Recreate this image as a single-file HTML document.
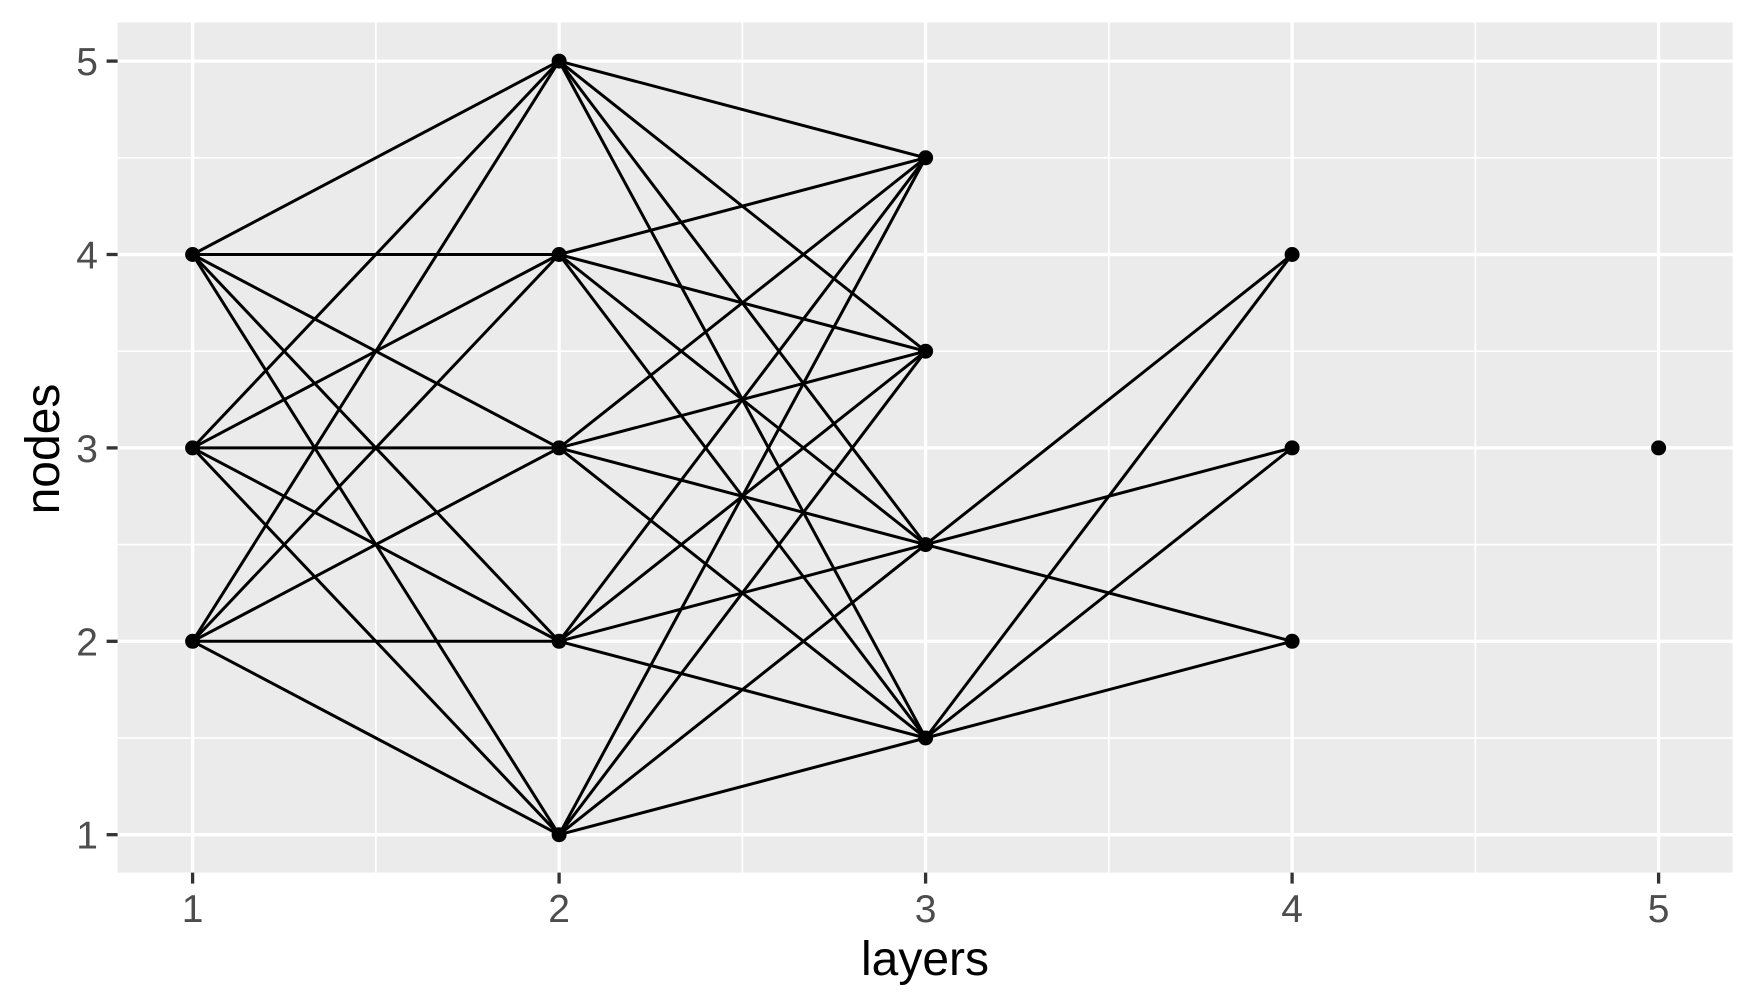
<!DOCTYPE html>
<html><head><meta charset="utf-8"><style>
html,body{margin:0;padding:0;background:#fff;}
svg{display:block;font-family:"Liberation Sans",Arial,sans-serif;}
</style></head><body>
<svg id="chart" width="1756" height="1006" viewBox="0 0 1756 1006">
<rect x="117.6" y="22.5" width="1615" height="850.1" fill="#ebebeb"/>
<g id="grid"></g>
<g id="edges"></g>
<g id="points"></g>
<g id="axes"></g>
<text x="925" y="975" font-size="48" text-anchor="middle" fill="#000">layers</text>
<text x="0" y="0" font-size="48" text-anchor="middle" fill="#000" transform="translate(59,449) rotate(-90)">nodes</text>
</svg>
<script>
const xTicks = [1, 2, 3, 4, 5];
const yTicks = [1, 2, 3, 4, 5];
const nodeLayers = [1, 1, 1, 2, 2, 2, 2, 2, 3, 3, 3, 3, 4, 4, 4, 5];
const nodeValues = [2, 3, 4, 1, 2, 3, 4, 5, 1.5, 2.5, 3.5, 4.5, 2, 3, 4, 3];
const edgeFrom = [0,0,0,0,0, 1,1,1,1,1, 2,2,2,2,2,
  3,3,3,3, 4,4,4,4, 5,5,5,5, 6,6,6,6, 7,7,7,7,
  8,8,8, 9,9,9];
const edgeTo = [3,4,5,6,7, 3,4,5,6,7, 3,4,5,6,7,
  8,9,10,11, 8,9,10,11, 8,9,10,11, 8,9,10,11, 8,9,10,11,
  12,13,14, 12,13,14];

const NS = 'http://www.w3.org/2000/svg';
function xs(v){ return 192.6 + (v - 1) * 366.5; }
function ys(v){ return 834.7 - (v - 1) * 193.4; }
function mk(tag, attrs, parent){
  const e = document.createElementNS(NS, tag);
  for (const k in attrs) e.setAttribute(k, attrs[k]);
  parent.appendChild(e); return e;
}
const L = 117.6, R = 1732.6, T = 22.5, B = 872.6;
const grid = document.getElementById('grid');
for (let i = 0; i < xTicks.length - 1; i++) {
  const v = (xTicks[i] + xTicks[i+1]) / 2;
  const g = mk('line', {x1: xs(v), x2: xs(v), y1: T, y2: B, stroke: '#fff', 'stroke-width': 1.7}, grid);
  
  
}
for (let i = 0; i < yTicks.length - 1; i++) {
  const v = (yTicks[i] + yTicks[i+1]) / 2;
  const g = mk('line', {x1: L, x2: R, y1: ys(v), y2: ys(v), stroke: '#fff', 'stroke-width': 1.7}, grid);
  
  
}
const axes = document.getElementById('axes');
xTicks.forEach(v => {
  const g = mk('line', {x1: xs(v), x2: xs(v), y1: T, y2: B, stroke: '#fff', 'stroke-width': 3.3}, grid);
  
  
  const t = mk('line', {x1: xs(v), x2: xs(v), y1: B, y2: B + 11, stroke: '#333', 'stroke-width': 3.3}, axes);
  
  
  const lb = mk('text', {x: xs(v), y: 922, 'font-size': 39, 'text-anchor': 'middle', fill: '#4d4d4d'}, axes);
  lb.textContent = v;
  
  
});
yTicks.forEach(v => {
  const g = mk('line', {x1: L, x2: R, y1: ys(v), y2: ys(v), stroke: '#fff', 'stroke-width': 3.3}, grid);
  
  
  const t = mk('line', {x1: L - 11, x2: L, y1: ys(v), y2: ys(v), stroke: '#333', 'stroke-width': 3.3}, axes);
  
  
  const lb = mk('text', {x: 98, y: ys(v) + 14, 'font-size': 39, 'text-anchor': 'end', fill: '#4d4d4d'}, axes);
  lb.textContent = v;
  
  
});
const edges = document.getElementById('edges');
for (let i = 0; i < edgeFrom.length; i++) {
  const a = edgeFrom[i], b = edgeTo[i];
  const e = mk('line', {x1: xs(nodeLayers[a]), y1: ys(nodeValues[a]), x2: xs(nodeLayers[b]), y2: ys(nodeValues[b]), stroke: '#000', 'stroke-width': 3}, edges);
  
  
}
const pts = document.getElementById('points');
for (let i = 0; i < nodeLayers.length; i++) {
  const c = mk('circle', {cx: xs(nodeLayers[i]), cy: ys(nodeValues[i]), r: 7.5, fill: '#000'}, pts);
  
  
}
</script>
</body></html>
